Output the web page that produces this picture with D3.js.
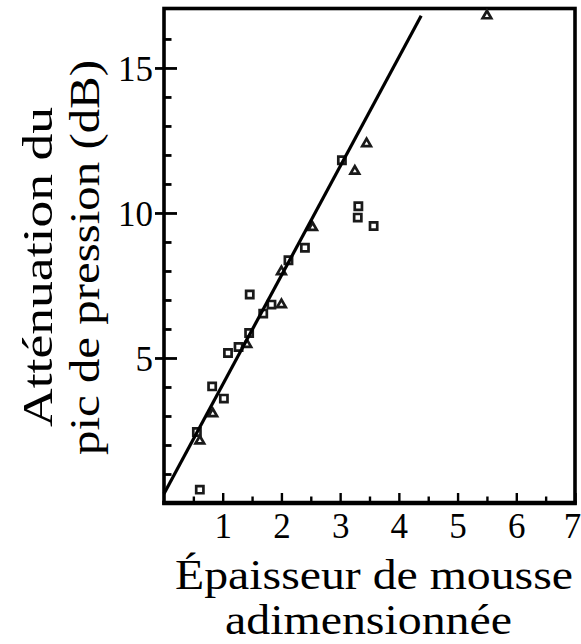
<!DOCTYPE html>
<html>
<head>
<meta charset="utf-8">
<script src="https://cdn.jsdelivr.net/npm/d3@7"></script>
<style>
	body { margin: 0; background: #fff; }
	text { font-family: 'Liberation Serif', 'DejaVu Serif', serif; fill: #000; }
</style>
</head>
<body>
<div class="chart"></div>
<script>
// data
const squareX = [0.61, 0.56, 0.82, 1.02, 1.09, 1.27, 1.45, 1.46, 1.69, 1.83, 2.12, 2.40, 3.03, 3.31, 3.30, 3.57]
const squareY = [0.46, 2.45, 4.02, 3.60, 5.17, 5.38, 5.86, 7.19, 6.53, 6.84, 8.37, 8.80, 11.82, 10.23, 9.84, 9.55]
const triangleX = [0.61, 0.83, 1.41, 2.00, 2.00, 2.53, 3.25, 3.45, 5.50]
const triangleY = [2.14, 3.08, 5.47, 6.84, 7.98, 9.50, 11.44, 12.39, 16.80]
const fitX = [0, 4.38]
const fitY = [0.32, 16.8]
const xTicks = [1, 2, 3, 4, 5, 6, 7]
const xMinorTicks = [0.5, 1.5, 2.5, 3.5, 4.5, 5.5, 6.5]
const yTicks = [5, 10, 15]
const yMinorTicks = [1, 2, 3, 4, 6, 7, 8, 9, 11, 12, 13, 14, 16]
const xTitle = ['Épaisseur de mousse', 'adimensionnée']
const yTitle = ['Atténuation du', 'pic de pression (dB)']

const W = 581, H = 644
const margin = ({ top: 8.5, right: 6, bottom: 141, left: 164 })

const svg = d3.select('.chart')
	.append('svg')
	.attr('width', W)
	.attr('height', H)

const x = d3.scaleLinear().domain([0, 7]).range([margin.left, W - margin.right])
const y = d3.scaleLinear().domain([0, 17.05]).range([H - margin.bottom, margin.top])

const x0 = x(0), y0 = y(0)

// frame
svg.append('rect')
	.attr('x', x0)
	.attr('y', margin.top)
	.attr('width', x(7) - x0)
	.attr('height', y0 - margin.top)
	.attr('fill', 'none')
	.attr('stroke', '#000')
	.attr('stroke-width', 3.6)

svg.append('line')
	.attr('x1', x0 - 1.8).attr('x2', x(7) + 1.8)
	.attr('y1', y0).attr('y2', y0)
	.attr('stroke', '#000')
	.attr('stroke-width', 4.6)

function styleAxis(g, w) {
	g.select('.domain').remove()
	g.selectAll('line').attr('stroke', '#000').attr('stroke-width', w)
}

// x axis: labels below, ticks pointing inward
svg.append('g')
	.attr('transform', `translate(0, ${y0})`)
	.call(d3.axisBottom(x).tickValues(xTicks).tickSize(0).tickPadding(10).tickFormat(d3.format('d')))
	.call(g => styleAxis(g, 0))
	.selectAll('text')
	.attr('font-size', 35)
	.attr('font-family', null)
	.attr('dx', d => d === 7 ? -3 : 0) // last label sits on the page edge

svg.append('g')
	.attr('transform', `translate(0, ${y0})`)
	.call(d3.axisTop(x).tickValues(xTicks).tickSize(10).tickFormat(''))
	.call(g => styleAxis(g, 2.4))

svg.append('g')
	.attr('transform', `translate(0, ${y0})`)
	.call(d3.axisTop(x).tickValues(xMinorTicks).tickSize(6.5).tickFormat(''))
	.call(g => styleAxis(g, 2.4))

// y axis: major ticks cross the spine, minor ones point inward
svg.append('g')
	.attr('transform', `translate(${x0}, 0)`)
	.call(d3.axisLeft(y).tickValues(yTicks).tickSize(9).tickPadding(2).tickFormat(d3.format('d')))
	.call(g => styleAxis(g, 2.8))
	.selectAll('text').attr('font-size', 35).attr('font-family', null).attr('dy', '0.36em')

svg.append('g')
	.attr('transform', `translate(${x0}, 0)`)
	.call(d3.axisRight(y).tickValues(yTicks).tickSize(13).tickFormat(''))
	.call(g => styleAxis(g, 2.8))

svg.append('g')
	.attr('transform', `translate(${x0}, 0)`)
	.call(d3.axisRight(y).tickValues(yMinorTicks).tickSize(7.5).tickFormat(''))
	.call(g => styleAxis(g, 2.8))

// markers
const squares = squareX.map((d, i) => [d, squareY[i]])
const triangles = triangleX.map((d, i) => [d, triangleY[i]])

svg.append('g')
	.selectAll('path')
	.data(squares)
	.join('path')
	.attr('d', d3.symbol(d3.symbolSquare, 52))
	.attr('transform', d => `translate(${x(d[0])}, ${y(d[1])})`)
	.attr('fill', 'none')
	.attr('stroke', '#1a1a1a')
	.attr('stroke-width', 2.7)

svg.append('g')
	.selectAll('path')
	.data(triangles)
	.join('path')
	.attr('d', d3.symbol(d3.symbolTriangle, 32))
	.attr('transform', d => `translate(${x(d[0])}, ${y(d[1])})`)
	.attr('fill', 'none')
	.attr('stroke', '#1a1a1a')
	.attr('stroke-width', 2.7)

// fitted line
const line = d3.line()
	.x(d => x(d[0]))
	.y(d => y(d[1]))

svg.append('path')
	.datum(fitX.map((d, i) => [d, fitY[i]]))
	.attr('d', line)
	.attr('fill', 'none')
	.attr('stroke', '#000')
	.attr('stroke-width', 3.2)

// titles
svg.append('text')
	.attr('x', 374).attr('y', 589)
	.attr('text-anchor', 'middle')
	.attr('font-size', 42)
	.attr('textLength', 398)
	.attr('lengthAdjust', 'spacingAndGlyphs')
	.text(xTitle[0])

svg.append('text')
	.attr('x', 368.5).attr('y', 634)
	.attr('text-anchor', 'middle')
	.attr('font-size', 42)
	.attr('textLength', 287)
	.attr('lengthAdjust', 'spacingAndGlyphs')
	.text(xTitle[1])

svg.append('text')
	.attr('transform', 'translate(52, 267) rotate(-90)')
	.attr('text-anchor', 'middle')
	.attr('font-size', 43)
	.attr('textLength', 320)
	.attr('lengthAdjust', 'spacingAndGlyphs')
	.text(yTitle[0])

svg.append('text')
	.attr('transform', 'translate(99, 257.5) rotate(-90)')
	.attr('text-anchor', 'middle')
	.attr('font-size', 43)
	.attr('textLength', 395)
	.attr('lengthAdjust', 'spacingAndGlyphs')
	.text(yTitle[1])
</script>
</body>
</html>
